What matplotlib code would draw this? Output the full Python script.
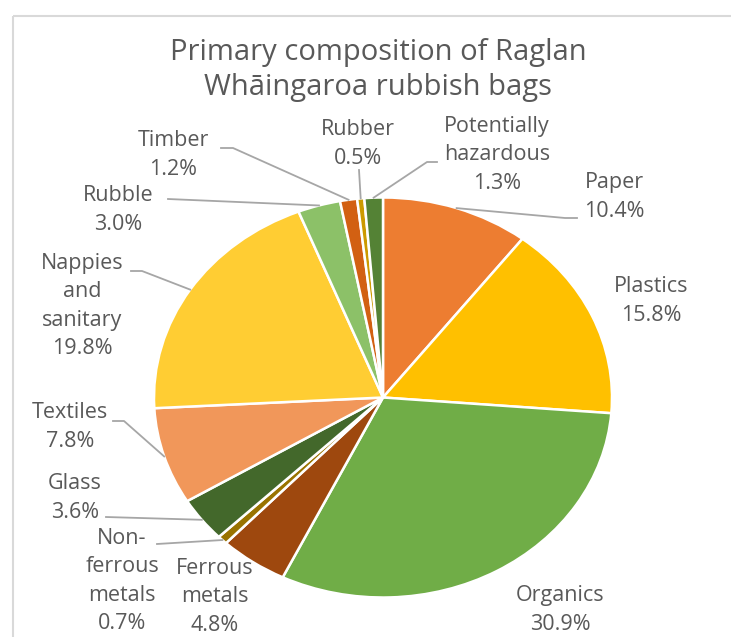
import matplotlib.pyplot as plt
import numpy as np
from matplotlib.patches import Rectangle

plt.rcParams['font.family'] = ['Open Sans', 'DejaVu Sans']

labels = ["Paper", "Plastics", "Organics", "Ferrous\nmetals", "Non-\nferrous\nmetals",
          "Glass", "Textiles", "Nappies\nand\nsanitary", "Rubble", "Timber", "Rubber",
          "Potentially\nhazardous"]
shares = [10.4, 15.8, 30.9, 4.8, 0.7, 3.6, 7.8, 19.8, 3.0, 1.2, 0.5, 1.3]
colors = ["#ED7D31", "#FFC000", "#70AD47", "#9E480E", "#997300", "#43682B",
          "#F1975A", "#FFCD33", "#8CC168", "#D26012", "#CC9A00", "#548235"]

W, H = 731, 637
cx, cy, rx, ry = 383, 397.5, 229, 200   # pie centre and radii in pixels (screenshot is stretched)

# label layout (pixels): text centre, then leader points from elbow to label side
label_pos = [(614, 197), (651, 301), (560, 610), (215, 597), (122, 581), (75, 498),
             (70, 427), (82, 306), (118, 210), (173, 155), (358, 144), (497, 155)]
leaders = {0: [(565, 218), (577, 218)], 4: [(157, 544)], 5: [(106, 517)],
           6: [(124, 421), (113, 421)], 7: [(142, 271), (131, 271)], 8: [(168, 199)],
           9: [(233, 148), (221, 148)], 10: [(359, 170)], 11: [(427, 162), (437, 162)]}

txt_color = "#595959"
line_color = "#A6A6A6"

fig = plt.figure(figsize=(W / 100, H / 100), dpi=100)

# pie axes, elliptical like the reference
ax = fig.add_axes([(cx - rx) / W, (H - cy - ry) / H, 2 * rx / W, 2 * ry / H])
wedges, _ = ax.pie(shares, colors=colors, startangle=90, counterclock=False,
                   wedgeprops=dict(edgecolor="white", linewidth=1.8))
ax.set_aspect('auto')
ax.set_xlim(-1, 1)
ax.set_ylim(-1, 1)
ax.axis('off')

# overlay in pixel coordinates for border, title, labels
ov = fig.add_axes([0, 0, 1, 1], zorder=3)
ov.set_xlim(0, W)
ov.set_ylim(H, 0)
ov.axis('off')

ov.add_patch(Rectangle((13, 16), W + 20, H + 20, fill=False, edgecolor="#D9D9D9", linewidth=1.5))

ov.text(378, 70, "Primary composition of Raglan\nWhāingaroa rubbish bags", ha="center", va="center",
        fontsize=21, color=txt_color, linespacing=1.25)

for i, (w, lab, v) in enumerate(zip(wedges, labels, shares)):
    x, y = label_pos[i]
    ov.text(x, y, f"{lab}\n{v:.1f}%", ha="center", va="center", fontsize=15.5,
            color=txt_color, linespacing=1.47)
    if i in leaders:
        mid = np.deg2rad((w.theta1 + w.theta2) / 2)
        pts = [(cx + rx * np.cos(mid), cy - ry * np.sin(mid))] + leaders[i]
        xs, ys = zip(*pts)
        ov.plot(xs, ys, color=line_color, linewidth=1.3)

fig.savefig("out.png", dpi=100)
